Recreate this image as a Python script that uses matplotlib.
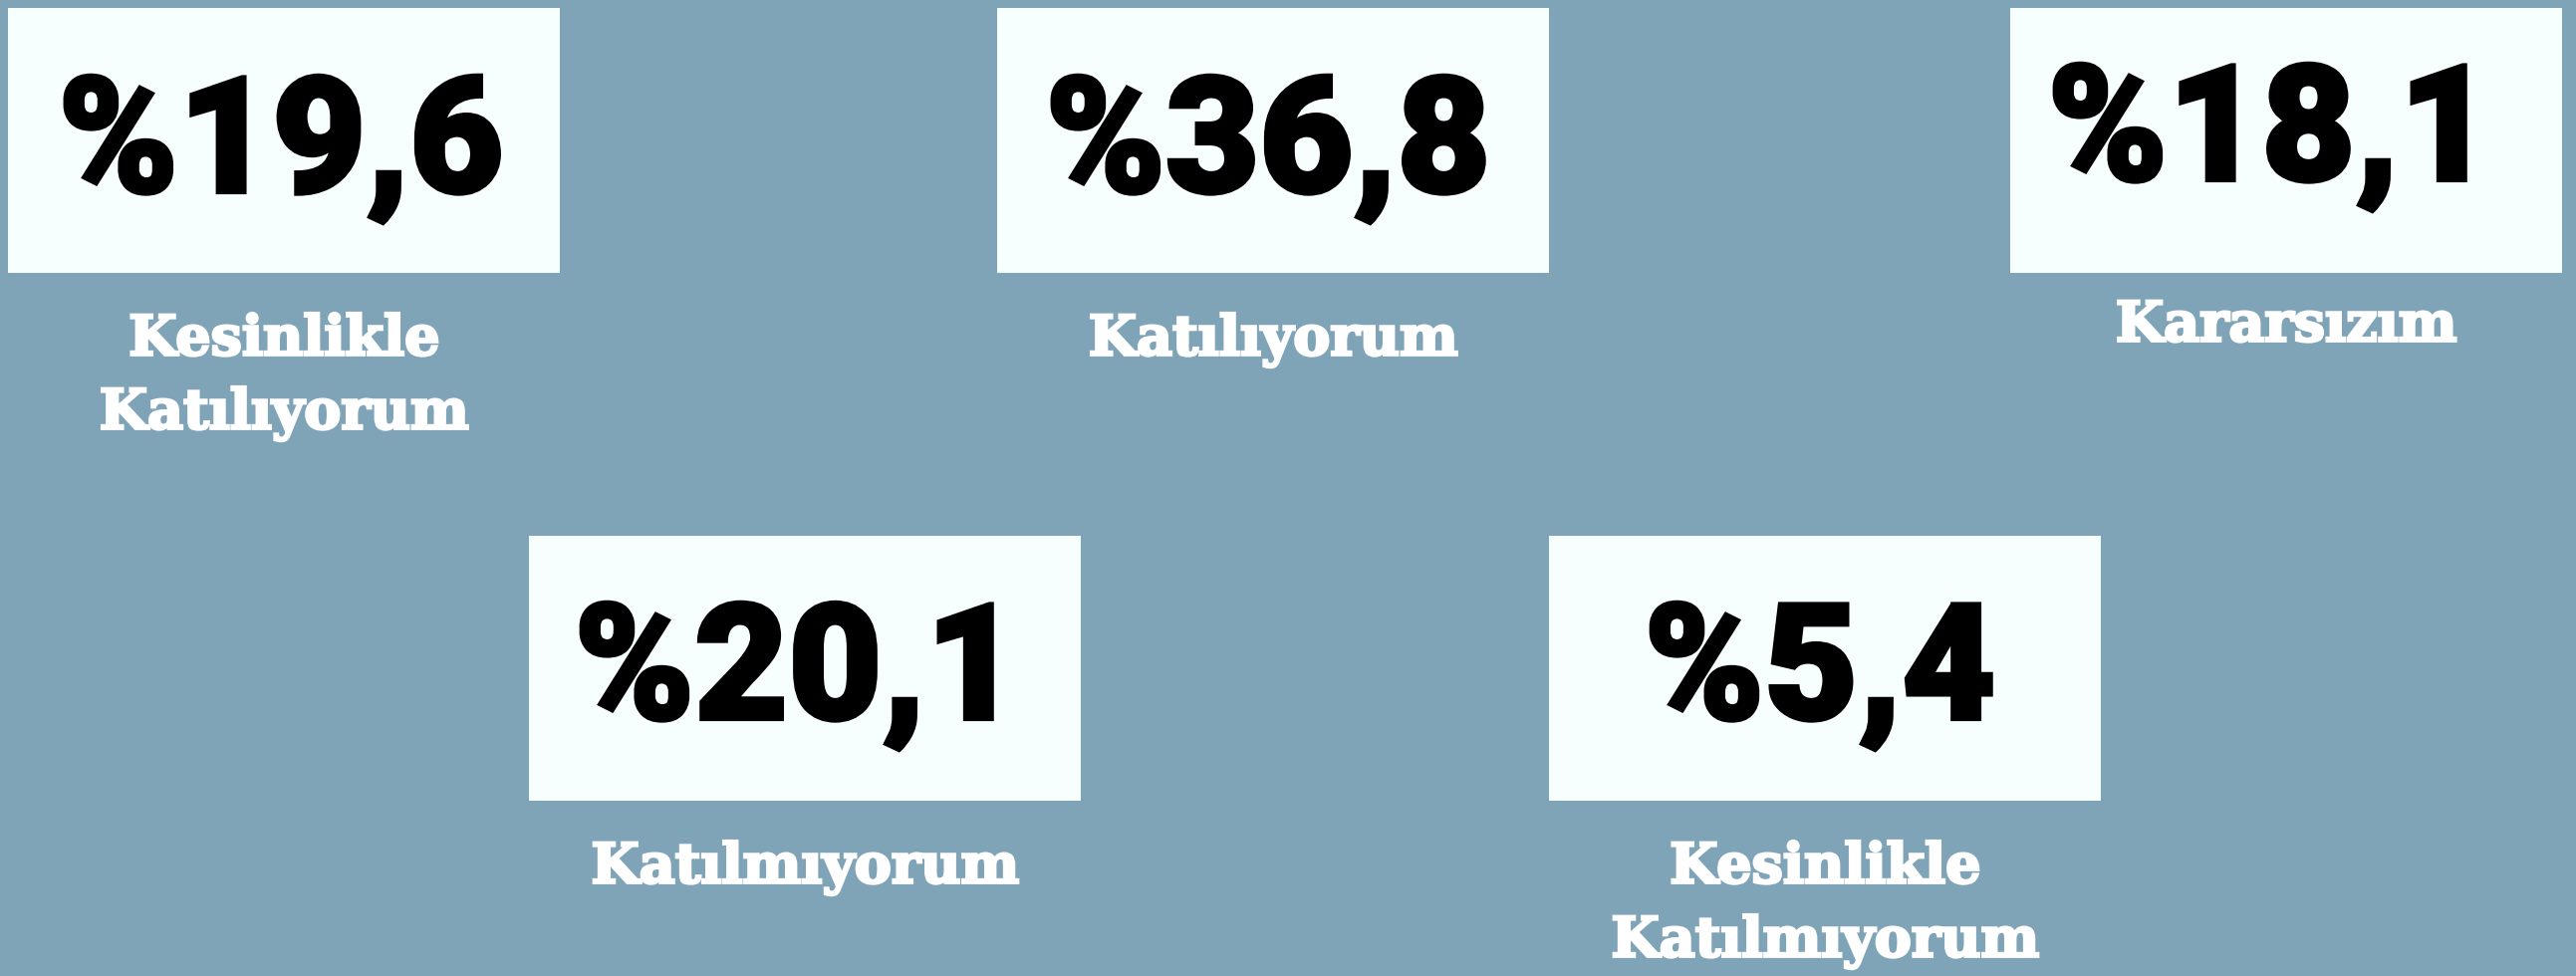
#---Survey answer shares shown as big percentage cards
import matplotlib.pyplot as plt
import matplotlib.patheffects as pe
from matplotlib.patches import Rectangle

#---Data
answers = ['Kesinlikle\nKatılıyorum', 'Katılıyorum', 'Kararsızım',
           'Katılmıyorum', 'Kesinlikle\nKatılmıyorum']
shares = [19.6, 36.8, 18.1, 20.1, 5.4]

#---Layout (pixels, origin top-left)
box_x = [8, 1001, 2018, 531, 1555]
box_y = [8, 8, 8, 538, 538]
box_w = 554
box_h = 266
num_x = [282, 1273, 2279, 800, 1827]
num_base = [193, 193, 181, 722, 722]
lab_y = [341, 341, 327, 871, 871]
line_gap = 74

bg = '#80A4B7'
card = '#F7FFFE'

fig = plt.figure(figsize=(25.86, 9.8), dpi=100, facecolor=bg)
ax = fig.add_axes([0, 0, 1, 1])
ax.set_xlim(0, 2586)
ax.set_ylim(980, 0)
ax.axis('off')
ax.set_facecolor(bg)

for i in range(len(shares)):
    ax.add_patch(Rectangle((box_x[i], box_y[i]), box_w, box_h, facecolor=card, edgecolor='none'))
    txt = '%' + f'{shares[i]:.1f}'.replace('.', ',')
    ax.text(num_x[i], num_base[i], txt, ha='center', va='baseline', fontsize=117,
            family=['Roboto', 'DejaVu Sans'], fontweight=900, color='black',
            path_effects=[pe.withStroke(linewidth=3, foreground='black', joinstyle='miter')])
    cx = box_x[i] + box_w / 2
    for j, line in enumerate(answers[i].split('\n')):
        ax.text(cx, lab_y[i] + j * line_gap, line, ha='center', va='center', fontsize=40,
                family=['DejaVu Serif'], fontweight='bold', color='white',
                path_effects=[pe.withStroke(linewidth=2, foreground='white', joinstyle='miter')])

plt.savefig('out.png', dpi=100, facecolor=bg)
